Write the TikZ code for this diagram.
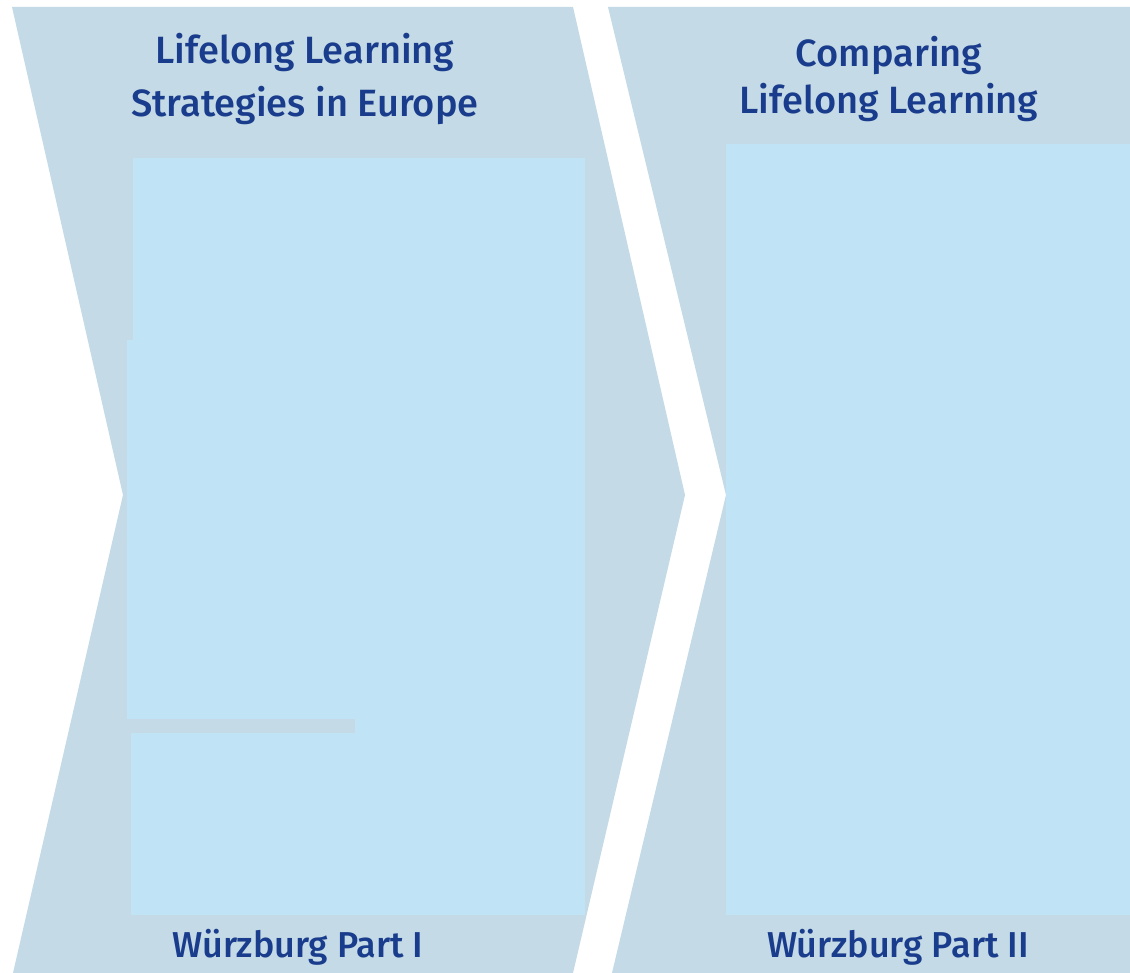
\documentclass[tikz,border=0pt]{standalone}
\usepackage{fontspec}
\setmainfont{Fira Sans}
\newfontfamily\medfont{Fira Sans Medium}
\definecolor{chevfill}{RGB}{196,218,230}
\definecolor{panelfill}{RGB}{192,227,245}
\definecolor{titleblue}{RGB}{26,60,140}

\begin{document}
\begin{tikzpicture}[x=1pt,y=-1pt,
    heading/.style={text=titleblue,font=\medfont\fontsize{38}{46}\selectfont,anchor=base,inner sep=0},
    footer/.style={text=titleblue,font=\medfont\fontsize{36}{42}\selectfont,anchor=base,inner sep=0}]
    \useasboundingbox[fill=white] (0,0) rectangle (1130,973);
    %Pfeil links
    \draw[fill=chevfill,draw=none] (12,7) -- (573,7) -- (685,495) -- (573,973) -- (13,973) -- (123,495) -- cycle;
    %Pfeil rechts
    \draw[fill=chevfill,draw=none] (608,7) -- (1130,7) -- (1130,973) -- (612,973) -- (726,495) -- cycle;
    
    %Felder links
    \draw[fill=panelfill,draw=none] (133,158) rectangle (585,341);
    \draw[fill=panelfill,draw=none] (127,340) rectangle (585,719);
    \draw[fill=panelfill,draw=none] (355,718) rectangle (585,734);
    \draw[fill=panelfill,draw=none] (131,733) rectangle (585,915);
    %Feld rechts
    \draw[fill=panelfill,draw=none] (726,144) rectangle (1130,915);
    
    \node[heading] (titleA1) at (305,64) {Lifelong Learning};
    \node[heading] (titleA2) at (305,117) {Strategies in Europe};
    \node[heading] (titleB1) at (889,67) {Comparing};
    \node[heading] (titleB2) at (889,114) {Lifelong Learning};
    
    \node[footer] (partA) at (298,957) {Würzburg Part I};
    \node[footer] (partB) at (898,957) {Würzburg Part II};
\end{tikzpicture}
\end{document}
